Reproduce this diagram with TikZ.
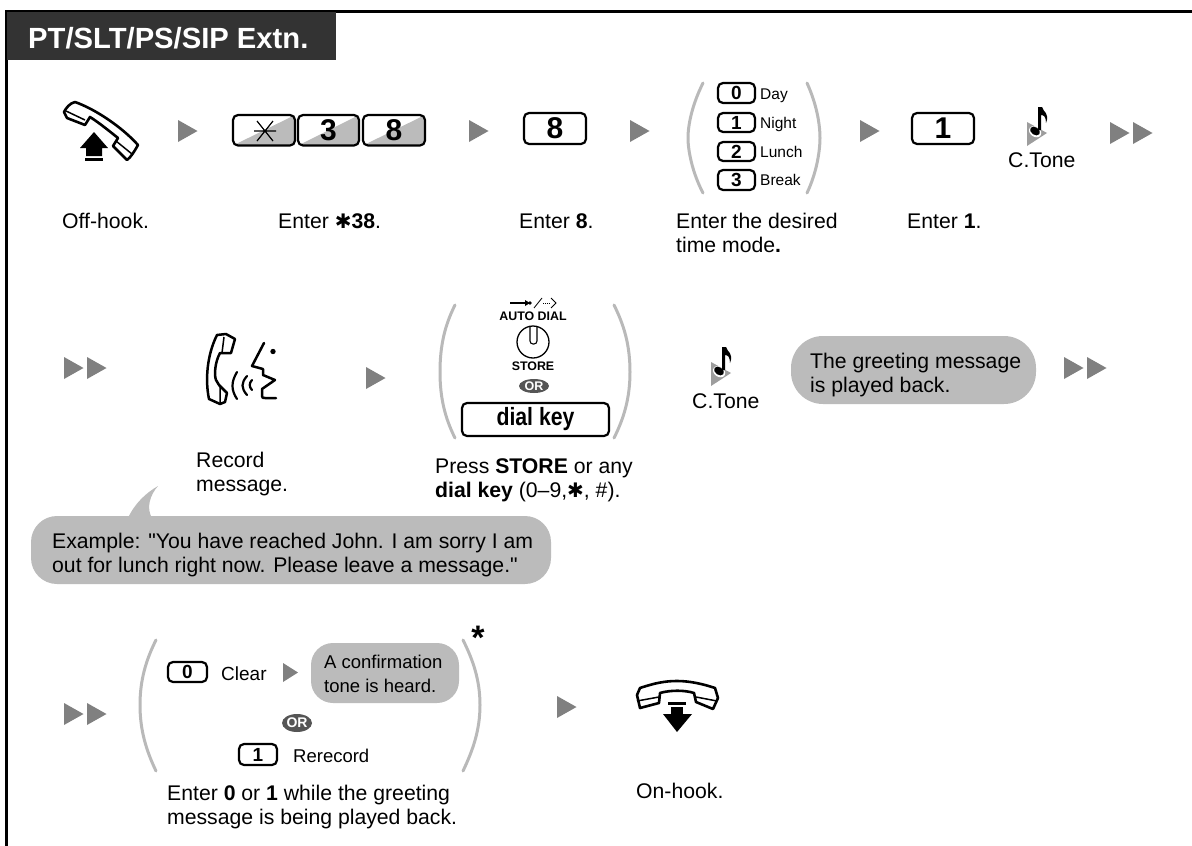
\documentclass[tikz,border=0pt]{standalone}
\usepackage{fontspec}
\setmainfont{Liberation Sans}
\newfontfamily\symf{DejaVu Sans}
\newfontfamily\qf{Liberation Sans}
\usetikzlibrary{shapes.geometric}
\definecolor{tricol}{HTML}{808080}
\definecolor{parcol}{HTML}{B9B9B9}
\definecolor{bubcol}{HTML}{BBBBBB}
\definecolor{orcol}{HTML}{555555}
\definecolor{headcol}{HTML}{333333}
\tikzset{
 x=1pt,y=-1pt,
 txt/.style={anchor=base west,inner sep=0pt,font=\fontsize{21.2}{24}\selectfont,align=left,text=black},
 tri/.style={fill=tricol,draw=none},
 paren/.style={draw=parcol,line width=3pt,line cap=round},
 ink/.style={draw=black,line width=2.6pt,line join=round,line cap=round},
 keybox/.style={draw=black,line width=2.2pt,rounded corners=5pt},
 bubble/.style={fill=bubcol,draw=none,rounded corners=26pt},
 keylab/.style={font=\fontsize{30}{30}\bfseries\selectfont,inner sep=0pt},
 smalllab/.style={font=\fontsize{19}{19}\bfseries\selectfont,inner sep=0pt},
 ornode/.style={fill=orcol,ellipse,minimum width=30pt,minimum height=14pt,inner sep=0pt,text=white,font=\fontsize{12.5}{12}\bfseries\selectfont},
}
\newcommand{\heavystar}{{\symf\fontsize{20}{20}\selectfont ✱}}
\newcommand{\triat}[2]{\fill[tri] (#1,#2-11) -- ++(19.5,11) -- ++(-19.5,11) -- cycle;}
\newcommand{\dtriat}[2]{\triat{#1}{#2}\triat{#1+23}{#2}}
\newcommand{\keyat}[7]{% name, x1,y1,x2,y2,label,style
 \draw[keybox] (#2,#3) rectangle (#4,#5);
 \node[#7] (#1) at ({(#2+#4)/2},{(#3+#5)/2}) {#6};}
\newcommand{\gkey}[6]{% name x1 y1 x2 y2 label
 \begin{scope}
  \clip[rounded corners=5pt] (#2,#3) rectangle (#4,#5);
  \fill[bubcol] (#2,#5) -- (#4,#3) -- (#4,#5) -- cycle;
 \end{scope}
 \keyat{#1}{#2}{#3}{#4}{#5}{#6}{keylab}}
\newcommand{\noteat}[2]{\begin{scope}[shift={(#1,#2)}]
 \fill[parcol!85!black] (-8,0) -- (12,11) -- (-8,24) -- cycle;
 \fill[white,rotate around={-35:(0,9)}] (0.5,9.5) ellipse (6.6pt and 5pt);
 \fill[black,rotate around={-35:(0,9)}] (0,9) ellipse (5.4pt and 3.8pt);
 \fill[black] (3,8) -- (3,-15) -- (7,-15) .. controls (8,-10) and (15,-9) .. (11,1) .. controls (11,-5) and (9,-7) .. (6,-7) -- (6,8) -- cycle;
 \end{scope}}
\begin{document}
\begin{tikzpicture}
\useasboundingbox (0,0) rectangle (1192,846);
\draw[black,line width=3pt] (6,846) -- (6,11) -- (1192,11);
\fill[headcol] (7,12) rectangle (336,60);
\node[anchor=base west,inner sep=0pt,text=white,font=\fontsize{29.2}{30}\bfseries\selectfont] (head) at (28,48) {PT/SLT/PS/SIP Extn.};
% off-hook
\draw[ink] (64,112) .. controls (66,108) and (70,103) .. (75,102) .. controls (95,109) and (122,127) .. (138,145) .. controls (134,152) and (131,157) .. (127,160) -- (113,146) -- (118,138) .. controls (108,130) and (98,122) .. (90,117) -- (85,125) -- (67,118) -- cycle;
\draw[black,line width=1.5pt] (66,111) -- (85,120) (116,141) -- (132,154);
\fill[black] (94,132) -- (108,148) -- (102,148) -- (102,156) -- (86,156) -- (86,148) -- (80,148) -- cycle;
\fill[black] (85,158) rectangle (103,161);
\triat{178}{131}
\gkey{ks}{233}{115}{295}{145.5}{}
\draw[black,line width=1.2pt] (254,131) -- (276,131) (257,121) -- (273,141) (273,121) -- (257,141);
\gkey{k3}{298}{115}{359}{145.5}{3}
\gkey{k8a}{363}{115}{425}{145.5}{8}
\triat{469}{131}
\keyat{k8}{524}{113}{586}{144}{8}{keylab}
\triat{630}{131}
\draw[paren] (703,83) .. controls (692,105) and (688,125) .. (688,138) .. controls (688,150) and (692,172) .. (703,193);
\draw[paren] (807,83) .. controls (817,105) and (820,125) .. (820,138) .. controls (820,150) and (817,172) .. (807,193);
\keyat{m0}{718}{83}{755}{103}{0}{smalllab}
\keyat{m1}{718}{113}{755}{132}{1}{smalllab}
\keyat{m2}{718}{142}{755}{161}{2}{smalllab}
\keyat{m3}{718}{170}{755}{190}{3}{smalllab}
\begin{scope}[every node/.style={txt,font=\fontsize{15.5}{16}\selectfont}]
\node (tday) at (760,99) {Day};
\node (tnight) at (760,128) {Night};
\node (tlunch) at (760,157) {Lunch};
\node (tbreak) at (760,185) {Break};
\end{scope}
\triat{860}{131}
\keyat{k1}{912}{113}{974}{144}{1}{keylab}
\noteat{1035}{122}
\node[txt] (ct1) at (1008,167) {C.Tone};
\dtriat{1110}{133}
\node[txt] (t1) at (62,228) {Off-hook.};
\node[txt] (t2) at (278,228) {Enter \heavystar\textbf{38}.};
\node[txt] (t3) at (519,228) {Enter \textbf{8}.};
\node[txt] (t4) at (676,252) {Enter the desired\\[0pt]time mode\textbf{.}};
\node[txt] (t5) at (907,228) {Enter \textbf{1}.};
% row 2
\dtriat{64}{368}
% talking icon
\draw[ink,line width=2.5pt] (217,335) -- (226,334) -- (235,339) -- (231,353) -- (220,353) .. controls (215,362) and (214,375) .. (216,380) -- (219,385) -- (227,393) -- (225,402) -- (220,404) -- (209,399) .. controls (205,380) and (207,355) .. (217,335) -- cycle;
\draw[black,line width=1.5pt] (224,337) -- (222,353) (220,385) -- (220,403);
\draw[ink,line width=2.2pt] (237,372) .. controls (231,382) and (231,390) .. (237,399);
\draw[ink,line width=2.2pt] (247,376) .. controls (241,383) and (241,388) .. (247,395);
\draw[ink,line width=2.2pt] (252,380) .. controls (249,383) and (249,387) .. (252,390);
\draw[ink,line width=2.5pt] (264,343) -- (252,366) -- (263,369) -- (263,375) -- (275,380) -- (262,389) -- (262,396) .. controls (262,398) and (263,398) .. (265,398) -- (276,398);
\fill[black] (273,351.5) circle (2.7pt);
\triat{366}{378}
\draw[paren] (455,305) .. controls (445,325) and (440,345) .. (440,372) .. controls (440,398) and (445,418) .. (455,438);
\draw[paren] (614,305) .. controls (624,325) and (630,345) .. (630,372) .. controls (630,398) and (624,418) .. (614,438);
% auto dial icon
\draw[black,line width=1.2pt] (510,303) -- (526,303);
\fill[black] (530,303) -- (525,300) -- (525,306) -- cycle;
\fill[black] (530,303) circle (1.8pt);
\draw[black,line width=.8pt] (534,308) -- (542,298);
\draw[black,line width=.9pt,densely dotted] (543,303) -- (550,303);
\draw[black,line width=.9pt] (551,298) -- (556,303) -- (551,308);
\node[inner sep=0pt,font=\fontsize{12.4}{13}\bfseries\selectfont] (auto) at (533,316) {AUTO DIAL};
\node[draw=black,line width=1.3pt,circle,minimum size=32pt,inner sep=0pt] (dial) at (533,342) {};
\draw[black,line width=1.1pt,rounded corners=3pt] (530,326) -- (530,344) -- (537,344) -- (537,326);
\node[inner sep=0pt,font=\fontsize{12.4}{13}\bfseries\selectfont] (store) at (533,366) {STORE};
\node[ornode] (or1) at (534,386) {OR};
\keyat{dk}{462}{403}{609}{436}{\scalebox{.85}[1]{dial key}}{font=\fontsize{25}{25}\bfseries\selectfont,inner sep=0pt}
\node[txt] (t6) at (196,491) {Record\\[0pt]message.};
\node[txt] (t7) at (435,497) {Press \textbf{STORE} or any\\[0pt]\textbf{dial key} (0–9,\heavystar, \#).};
\noteat{719}{362}
\node[txt] (ct2) at (692,408) {C.Tone};
\fill[bubble,rounded corners=32pt] (791,336) rectangle (1036,404);
\node[txt] (bub1) at (810,392) {The greeting message\\[0pt]is played back.};
\dtriat{1064}{368}
% example bubble
\fill[bubble] (31,516) rectangle (551,584);
\fill[bubcol] (128,518) .. controls (135,503) and (146,493) .. (158,486) .. controls (150,495) and (146,508) .. (152,518) -- cycle;
\node[txt] (ex) at (52,572) {Example: {\qf"}You have reached John. I am sorry I am\\[0pt]out for lunch right now. Please leave a message.{\qf"}};
% row 3
\dtriat{64}{714}
\draw[paren] (156,640) .. controls (146,660) and (140,680) .. (140,705) .. controls (140,730) and (146,750) .. (156,771);
\draw[paren] (463,640) .. controls (473,660) and (480,680) .. (480,705) .. controls (480,730) and (473,750) .. (463,771);
\node[inner sep=0pt,font=\fontsize{34}{34}\bfseries\selectfont] (star) at (478,638) {*};
\keyat{n0}{168}{662}{207}{682}{0}{smalllab}
\node[txt,font=\fontsize{19}{24}\selectfont] (clear) at (221,680) {Clear};
\fill[tri] (283,663) -- (298,672.5) -- (283,682) -- cycle;
\fill[bubble,rounded corners=22pt] (311,643) rectangle (459,703);
\node[txt,font=\fontsize{18.5}{24}\selectfont] (conf) at (324,692) {A confirmation\\[0pt]tone is heard.};
\node[ornode,minimum height=18pt,font=\fontsize{14}{14}\bfseries\selectfont] (or2) at (297,723) {OR};
\keyat{n1}{239}{744}{277}{765}{1}{smalllab}
\node[txt,font=\fontsize{18.5}{24}\selectfont] (rer) at (293,762) {Rerecord};
\triat{557}{707}
% on-hook
\draw[ink] (637,695) -- (640,688) .. controls (655,683) and (665,681) .. (677,681) .. controls (690,681) and (703,684) .. (715,688) -- (718,698) -- (713,709) -- (696,702) -- (694,693) .. controls (685,690) and (670,690) .. (660,693) -- (659,703) -- (640,708) -- cycle;
\draw[black,line width=1.5pt] (637,701) -- (659,697) (696,697) -- (717,701);
\fill[black] (668,702) rectangle (686,705);
\fill[black] (671,707) rectangle (683,714) ;
\fill[black] (663,714) -- (692,714) -- (677,732) -- cycle;
\node[txt] (t8) at (167,824) {Enter \textbf{0} or \textbf{1} while the greeting\\[0pt]message is being played back.};
\node[txt] (t9) at (636,798) {On-hook.};
\end{tikzpicture}
\end{document}
